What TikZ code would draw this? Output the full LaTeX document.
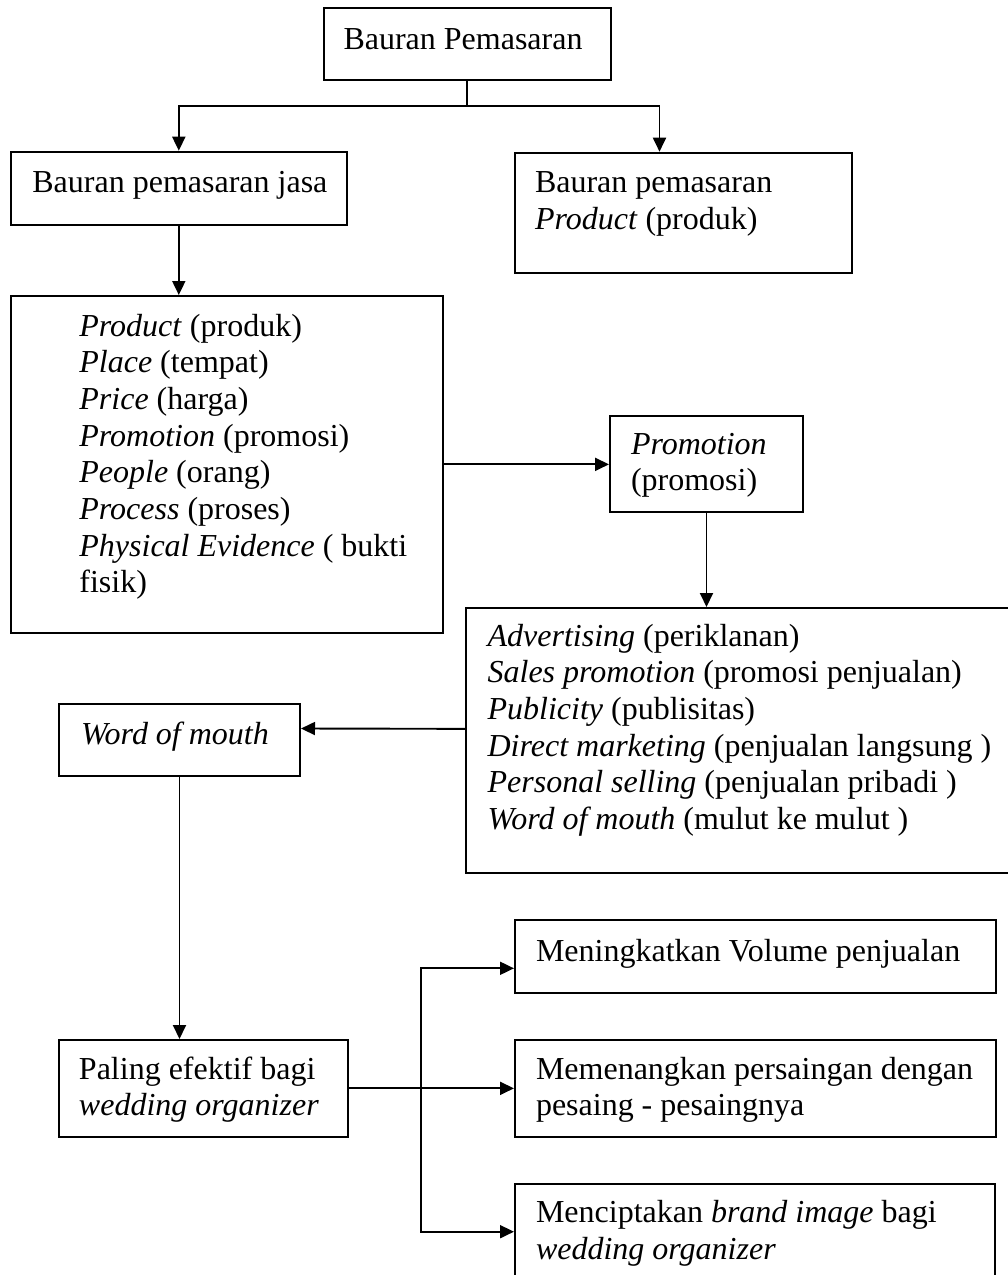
\documentclass[tikz,border=0pt]{standalone}
\usepackage{fontspec}
\setmainfont{Liberation Serif}
\usetikzlibrary{arrows.meta}

\tikzset{
  box/.style={draw, line width=2pt, inner sep=0pt, anchor=north west, align=flush left,
    font=\fontsize{32}{36.7}\selectfont},
  lpad/.style={execute at begin node={\leftskip=#1}},
  line/.style={line width=1.9pt},
  arr/.style={line width=1.9pt, -{Triangle[length=14pt,width=13pt]}}
}

\begin{document}
\begin{tikzpicture}[x=1pt,y=-1pt]
\useasboundingbox (0,0) rectangle (1008,1275);
\clip (0,0) rectangle (1008,1275);
% boxes
\node[box, text width=287.5pt, text height=41pt, text depth=31pt, lpad=20pt] (bauran) at (322.5,7.3) {Bauran Pemasaran};
\node[box, text width=336pt, text height=41pt, text depth=32.6pt, lpad=21.6pt] (jasa) at (9.8,150.7) {Bauran pemasaran jasa};
\node[box, text width=337pt, text height=40pt, text depth=80pt, lpad=20pt] (produk) at (514,151.7) {Bauran pemasaran\\\textit{Product} (produk)};
\node[box, text width=432.4pt, text height=40pt, text depth=296.7pt, lpad=68.8pt] (tujuhp) at (9.6,295) {\textit{Product} (produk)\\\textit{Place} (tempat)\\\textit{Price} (harga)\\\textit{Promotion} (promosi)\\\textit{People} (orang)\\\textit{Process} (proses)\\\textit{Physical Evidence} ( bukti\\fisik)};
\node[box, text width=193pt, text height=38pt, text depth=58pt, lpad=21pt] (promosi) at (609,415) {\textit{Promotion}\\(promosi)};
\node[box, text width=560pt, text height=38pt, text depth=226.7pt, lpad=21.6pt] (alat) at (465,607) {\textit{Advertising} (periklanan)\\\textit{Sales promotion} (promosi penjualan)\\\textit{Publicity} (publisitas)\\\textit{Direct marketing} (penjualan langsung )\\\textit{Personal selling} (penjualan pribadi )\\\textit{Word of mouth} (mulut ke mulut )};
\node[box, text width=241pt, text height=40.3pt, text depth=32.3pt, lpad=22pt] (wom) at (58,702.7) {\textit{Word of mouth}};
\node[box, text width=289pt, text height=39pt, text depth=57.7pt, lpad=20pt] (efektif) at (58,1039) {Paling efektif bagi\\\textit{wedding organizer}};
\node[box, text width=481pt, text height=40.7pt, text depth=31.7pt, lpad=21pt] (volume) at (514,919.3) {Meningkatkan Volume penjualan};
\node[box, text width=481pt, text height=38.7pt, text depth=57.7pt, lpad=21pt] (saing) at (514,1039.3) {Memenangkan persaingan dengan\\pesaing - pesaingnya};
\node[box, text width=480.3pt, text height=38.4pt, text depth=130pt, lpad=21pt] (brand) at (514,1183.3) {Menciptakan \textit{brand image} bagi\\\textit{wedding organizer}};
% connectors
\draw[line] (bauran.south) -- ++(0,24.4) coordinate (split);
\draw[arr] (split) -| (jasa.north);
\draw[arr] (split) -| ([xshift=-24pt]produk.north);
\draw[arr] (jasa.south) -- (jasa.south |- tujuhp.north);
\draw[arr] (tujuhp.east) -- (tujuhp.east -| promosi.west);
\draw[arr] (promosi.south) -- (promosi.south |- alat.north);
\draw[arr] ([yshift=11.5pt]alat.west) -- ([yshift=11.5pt]wom.east);
\draw[arr] (wom.south) -- (wom.south |- efektif.north);
\draw[line] (efektif.east) -- ++(72,0) coordinate (fork);
\draw[arr] (fork) -- (fork -| saing.west);
\draw[arr] (fork) |- ([yshift=-11.8pt]volume.west);
\draw[arr] (fork) |- ([yshift=-48.4pt]brand.north west);
\end{tikzpicture}
\end{document}
